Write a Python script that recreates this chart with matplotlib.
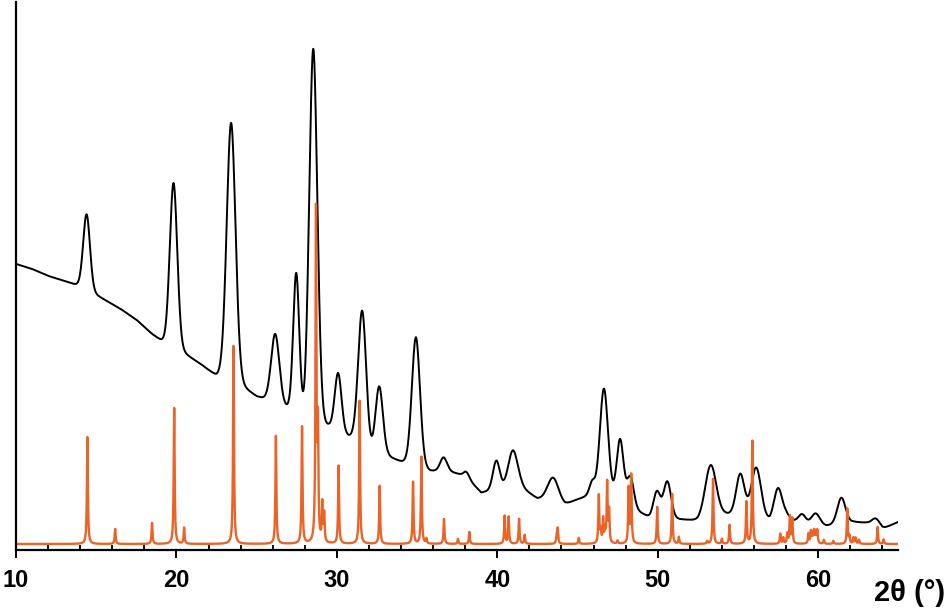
import numpy as np
import matplotlib
matplotlib.use("Agg")
import matplotlib.pyplot as plt
from matplotlib.ticker import MultipleLocator

plt.rcParams['font.family'] = ['Liberation Sans', 'DejaVu Sans']
plt.rcParams['font.weight'] = 'bold'

# measured pattern (black): background points, 2theta / intensity (a.u.)
bg_2theta = [10.0, 11.0, 12.0, 13.0, 14.0, 14.7, 15.5, 16.5, 17.5, 18.5, 19.3, 20.5,
             21.5, 22.5, 23.0, 24.0, 25.0, 26.0, 27.0, 28.0, 29.5, 31.0, 32.0, 33.2,
             34.0, 35.8, 37.0, 38.0, 39.0, 40.0, 41.5, 42.5, 43.0, 44.2, 45.0, 46.0,
             47.0, 49.0, 49.5, 51.5, 52.5, 53.5, 54.5, 56.0, 57.0, 58.0, 58.5, 59.5,
             60.5, 61.0, 62.2, 63.0, 64.0, 65.0]
bg_int = [286, 281, 274, 269, 263, 257, 250, 241, 230, 215, 205, 195,
          185, 172, 170, 162, 152, 147, 138, 120, 120, 109, 92, 92,
          87, 78, 78, 74, 57, 60, 62, 51, 50, 45, 50, 55,
          53, 36, 32, 30, 29, 36, 35, 36, 28, 35, 29, 26,
          24, 25, 28, 27, 21, 28]

# measured pattern peaks: position, height above background, fwhm
exp_pos = [14.40, 19.82, 23.41, 26.16, 27.47, 28.53, 30.08, 31.58, 32.64, 34.93,
           36.65, 38.10, 39.94, 40.98, 43.48, 45.91, 46.65, 47.66, 48.30, 49.95,
           50.60, 53.30, 55.15, 56.15, 57.50, 59.00, 59.85, 61.45, 63.60]
exp_h = [76, 166, 260, 69, 144, 380, 59, 139, 70, 130,
         14, 5, 29, 38, 24, 12, 107, 62, 30, 26,
         37, 50, 40, 47, 30, 8, 11, 26, 8]
exp_fwhm = [0.50, 0.55, 0.65, 0.60, 0.45, 0.60, 0.50, 0.60, 0.55, 0.60,
            0.50, 0.40, 0.50, 0.70, 0.80, 0.40, 0.60, 0.50, 0.50, 0.50,
            0.55, 0.80, 0.60, 0.70, 0.60, 0.50, 0.60, 0.60, 0.60]

# reference pattern (orange): baseline, peak positions and heights
ref_base = 6
ref_pos = [14.45, 16.18, 18.48, 19.86, 20.48, 23.56, 26.20, 27.83, 28.70, 28.82,
           29.09, 29.21, 30.11, 31.42, 32.67, 34.75, 35.27, 35.58, 36.68, 37.55,
           38.26, 40.46, 40.71, 41.36, 41.71, 43.70, 43.77, 45.08, 46.33, 46.45,
           46.60, 46.72, 46.85, 46.97, 47.50, 48.19, 48.35, 49.97, 50.90, 51.32,
           53.09, 53.45, 54.00, 54.48, 55.53, 55.90, 57.64, 57.83, 58.08, 58.24,
           58.39, 59.40, 59.55, 59.65, 59.75, 59.85, 59.95, 60.36, 60.95, 61.82,
           61.95, 62.20, 62.34, 62.55, 63.71, 64.08]
ref_h = [107, 15, 21, 136, 16, 198, 108, 117, 331, 110,
         38, 28, 78, 143, 58, 62, 87, 5, 25, 5,
         12, 28, 27, 25, 9, 8, 15, 6, 48, 12,
         24, 12, 60, 32, 3, 55, 68, 37, 50, 7,
         2.5, 65, 5, 19, 42, 103, 10, 6, 10, 27,
         25, 10, 12, 9, 12, 11, 13, 4, 3, 35,
         7, 6, 6, 4, 17, 4.5]
ref_fwhm = 0.07

tt = np.linspace(10, 65, 11001)


def lorentz(x, x0, w):
    return 1.0 / (1.0 + ((x - x0) / (w / 2)) ** 2)


def pvoigt(x, x0, w, eta=0.1):
    g = np.exp(-4 * np.log(2) * ((x - x0) / w) ** 2)
    return eta * lorentz(x, x0, w) + (1 - eta) * g


exp_curve = np.interp(tt, bg_2theta, bg_int)
for p, h, w in zip(exp_pos, exp_h, exp_fwhm):
    exp_curve = exp_curve + h * pvoigt(tt, p, w)

ref_curve = np.full_like(tt, ref_base, dtype=float)
for p, h in zip(ref_pos, ref_h):
    ref_curve = ref_curve + h * lorentz(tt, p, ref_fwhm)

fig = plt.figure(figsize=(9.49, 6.14), dpi=100)
ax = fig.add_axes([16 / 949, 64 / 614, 882.3 / 949, 548.5 / 614])

ax.plot(tt, exp_curve, color='black', lw=1.4)
ax.plot(tt, ref_curve, color='#EB6327', lw=1.7)

ax.set_xlim(10, 65)
ax.set_ylim(0, 548.5)

for s in ['top', 'right']:
    ax.spines[s].set_visible(False)
for s in ['left', 'bottom']:
    ax.spines[s].set_linewidth(1.6)

ax.set_yticks([])
ax.xaxis.set_major_locator(MultipleLocator(10))
ax.xaxis.set_minor_locator(MultipleLocator(2))
ax.tick_params(axis='x', which='major', direction='out', length=5.5, width=1.4, pad=8,
               labelsize=17)
ax.tick_params(axis='x', which='minor', direction='in', length=3.5, width=1.3)

fig.text(909.7 / 949, 1 - 593 / 614, '2θ (°)', ha='center', va='center',
         fontsize=21, fontweight='bold')

fig.savefig('out.png', dpi=100)
